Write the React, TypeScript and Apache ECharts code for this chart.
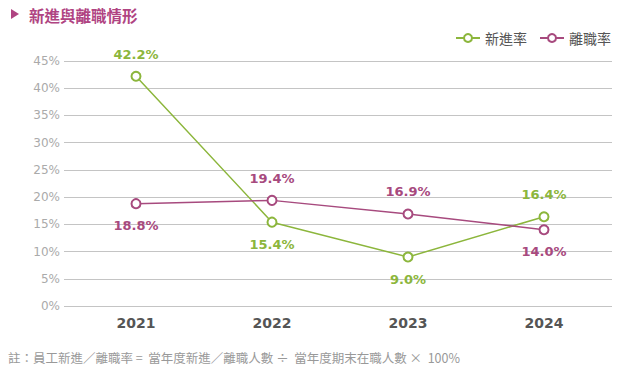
import React, { useEffect, useRef } from "react";
import * as echarts from "echarts";

const years = ["2021", "2022", "2023", "2024"];
const hireRate = [42.2, 15.4, 9.0, 16.4];
const leaveRate = [18.8, 19.4, 16.9, 14.0];
const hireLabelPos = ["top", "bottom", "bottom", "top"];
const leaveLabelPos = ["bottom", "top", "top", "bottom"];
const yTicks = [0, 5, 10, 15, 20, 25, 30, 35, 40, 45];

const GREEN = "#8cb63c";
const PURPLE = "#a74a7e";

export default function App() {
  const ref = useRef<HTMLDivElement>(null);
  useEffect(() => {
    if (!ref.current) return;
    const chart = echarts.init(ref.current, null, { renderer: "svg" });
    const labelFont = {
      fontFamily: "DejaVu Sans",
      fontSize: 13,
      fontWeight: "bold" as const,
    };
    chart.setOption({
      animation: false,
      backgroundColor: "#fff",
      title: {
        text: "新進與離職情形",
        left: 24,
        top: 2,
        textStyle: {
          color: "#b04482",
          fontSize: 15.5,
          fontWeight: "bold",
          fontFamily: "Noto Sans CJK TC",
        },
      },
      legend: {
        right: 16,
        top: 26,
        itemWidth: 24,
        itemHeight: 10,
        itemGap: 12,
        textStyle: { color: "#555", fontSize: 14, fontFamily: "Noto Sans CJK TC" },
        data: ["新進率", "離職率"],
      },
      graphic: [
        {
          type: "polygon",
          shape: { points: [[11, 9], [11, 19], [19, 14]] },
          style: { fill: "#b04482" },
        },
        {
          type: "text",
          left: 8,
          top: 351,
          style: {
            text: "註：員工新進／離職率 =  當年度新進／離職人數 ÷  當年度期末在職人數 ×  100%",
            fill: "#999",
            font: "12.5px 'Noto Sans CJK TC'",
          },
        },
      ],
      grid: { left: 68, right: 20, top: 61, bottom: 76 },
      xAxis: {
        type: "category",
        data: years,
        boundaryGap: true,
        axisLine: { show: false },
        axisTick: { show: false },
        axisLabel: {
          color: "#555",
          fontSize: 14,
          fontWeight: "bold",
          fontFamily: "DejaVu Sans",
          margin: 10,
        },
      },
      yAxis: {
        type: "value",
        min: 0,
        max: 45,
        interval: 5,
        axisLine: { show: false },
        axisTick: { show: true, length: 4, lineStyle: { color: "#c4c4c4" } },
        axisLabel: {
          color: "#aaa",
          fontSize: 12,
          fontFamily: "DejaVu Sans",
          margin: 8,
          formatter: (v: number) => (yTicks.includes(v) ? v + "%" : ""),
        },
        splitLine: { lineStyle: { color: "#c4c4c4", width: 1 } },
      },
      series: [
        {
          name: "新進率",
          type: "line",
          data: hireRate.map((v, i) => ({
            value: v,
            label: { position: hireLabelPos[i] },
          })),
          color: GREEN,
          symbol: "emptyCircle",
          symbolSize: 9,
          lineStyle: { color: GREEN, width: 1.5 },
          itemStyle: { color: GREEN, borderWidth: 1.5 },
          label: {
            show: true,
            distance: 10,
            color: GREEN,
            ...labelFont,
            formatter: (p: any) => p.value.toFixed(1) + "%",
          },
        },
        {
          name: "離職率",
          type: "line",
          data: leaveRate.map((v, i) => ({
            value: v,
            label: { position: leaveLabelPos[i] },
          })),
          color: PURPLE,
          symbol: "emptyCircle",
          symbolSize: 9,
          lineStyle: { color: PURPLE, width: 1.5 },
          itemStyle: { color: PURPLE, borderWidth: 1.5 },
          label: {
            show: true,
            distance: 10,
            color: PURPLE,
            ...labelFont,
            formatter: (p: any) => p.value.toFixed(1) + "%",
          },
        },
      ],
    });
    return () => chart.dispose();
  }, []);
  return <div ref={ref} style={{ width: 632, height: 382, position: "absolute", left: 0, top: 0 }} />;
}
